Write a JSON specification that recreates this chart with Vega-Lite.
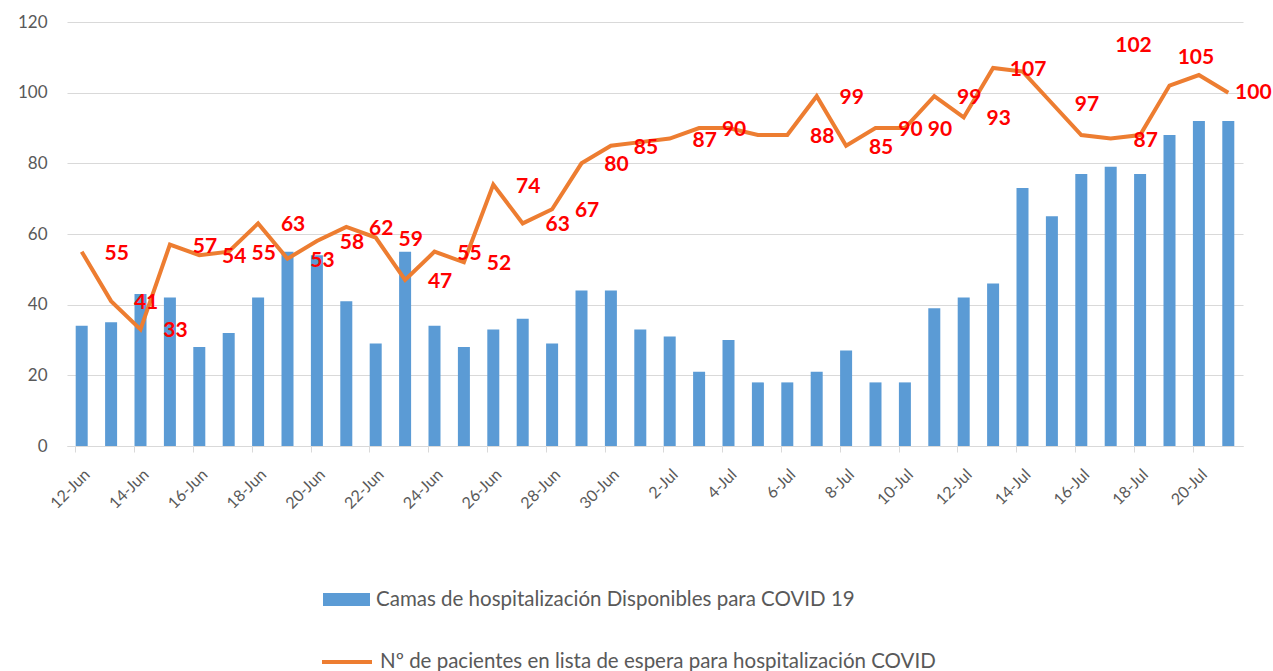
{
  "$schema": "https://vega.github.io/schema/vega-lite/v6.json",
  "width": 1176,
  "height": 424,
  "autosize": {"type": "none"},
  "padding": {"left": 67, "top": 22, "right": 30, "bottom": 225},
  "background": "white",
  "config": {
    "view": {"stroke": null},
    "font": "Lato",
    "axis": {"labelFont": "Lato", "labelColor": "#595959", "titleFont": "Lato"},
    "legend": {"labelFont": "Lato", "labelColor": "#595959", "labelLimit": 0}
  },
  "data": {
    "values": [
      {"fecha": "12-Jun", "camas": 34, "espera": 55},
      {"fecha": "13-Jun", "camas": 35, "espera": 41},
      {"fecha": "14-Jun", "camas": 43, "espera": 33},
      {"fecha": "15-Jun", "camas": 42, "espera": 57},
      {"fecha": "16-Jun", "camas": 28, "espera": 54},
      {"fecha": "17-Jun", "camas": 32, "espera": 55},
      {"fecha": "18-Jun", "camas": 42, "espera": 63},
      {"fecha": "19-Jun", "camas": 55, "espera": 53},
      {"fecha": "20-Jun", "camas": 54, "espera": 58},
      {"fecha": "21-Jun", "camas": 41, "espera": 62},
      {"fecha": "22-Jun", "camas": 29, "espera": 59},
      {"fecha": "23-Jun", "camas": 55, "espera": 47},
      {"fecha": "24-Jun", "camas": 34, "espera": 55},
      {"fecha": "25-Jun", "camas": 28, "espera": 52},
      {"fecha": "26-Jun", "camas": 33, "espera": 74},
      {"fecha": "27-Jun", "camas": 36, "espera": 63},
      {"fecha": "28-Jun", "camas": 29, "espera": 67},
      {"fecha": "29-Jun", "camas": 44, "espera": 80},
      {"fecha": "30-Jun", "camas": 44, "espera": 85},
      {"fecha": "1-Jul", "camas": 33, "espera": 86},
      {"fecha": "2-Jul", "camas": 31, "espera": 87},
      {"fecha": "3-Jul", "camas": 21, "espera": 90},
      {"fecha": "4-Jul", "camas": 30, "espera": 90},
      {"fecha": "5-Jul", "camas": 18, "espera": 88},
      {"fecha": "6-Jul", "camas": 18, "espera": 88},
      {"fecha": "7-Jul", "camas": 21, "espera": 99},
      {"fecha": "8-Jul", "camas": 27, "espera": 85},
      {"fecha": "9-Jul", "camas": 18, "espera": 90},
      {"fecha": "10-Jul", "camas": 18, "espera": 90},
      {"fecha": "11-Jul", "camas": 39, "espera": 99},
      {"fecha": "12-Jul", "camas": 42, "espera": 93},
      {"fecha": "13-Jul", "camas": 46, "espera": 107},
      {"fecha": "14-Jul", "camas": 73, "espera": 106},
      {"fecha": "15-Jul", "camas": 65, "espera": 97},
      {"fecha": "16-Jul", "camas": 77, "espera": 88},
      {"fecha": "17-Jul", "camas": 79, "espera": 87},
      {"fecha": "18-Jul", "camas": 77, "espera": 88},
      {"fecha": "19-Jul", "camas": 88, "espera": 102},
      {"fecha": "20-Jul", "camas": 92, "espera": 105},
      {"fecha": "21-Jul", "camas": 92, "espera": 100}
    ]
  },
  "encoding": {
    "x": {
      "field": "fecha",
      "type": "ordinal",
      "sort": null,
      "scale": {"paddingInner": 0.6, "paddingOuter": 0.3},
      "axis": {
        "title": null,
        "values": ["12-Jun", "14-Jun", "16-Jun", "18-Jun", "20-Jun", "22-Jun", "24-Jun", "26-Jun", "28-Jun", "30-Jun", "2-Jul", "4-Jul", "6-Jul", "8-Jul", "10-Jul", "12-Jul", "14-Jul", "16-Jul", "18-Jul", "20-Jul"],
        "labelAngle": -45,
        "labelFontSize": 16,
        "labelPadding": 14,
        "bandPosition": 0,
        "domainColor": "#d9d9d9",
        "domainWidth": 1,
        "tickColor": "#d9d9d9",
        "tickSize": 6,
        "grid": false
      }
    }
  },
  "layer": [
    {
      "mark": {"type": "bar", "width": 12},
      "encoding": {
        "y": {
          "field": "camas",
          "type": "quantitative",
          "scale": {"domain": [0, 120]},
          "axis": {
            "title": null,
            "values": [0, 20, 40, 60, 80, 100, 120],
            "labelFontSize": 17,
            "labelPadding": 20,
            "domain": false,
            "ticks": false,
            "gridColor": "#d9d9d9",
            "gridWidth": 1
          }
        },
        "color": {
          "datum": "Camas de hospitalización Disponibles para COVID 19",
          "scale": {"range": ["#5B9BD5"]},
          "legend": {
            "title": null,
            "orient": "none",
            "legendX": 256,
            "legendY": 554,
            "padding": 0,
            "labelFontSize": 20.5,
            "labelOffset": 6,
            "symbolType": "M-1,-0.28H1V0.28H-1Z",
            "symbolSize": 2209,
            "symbolStrokeWidth": 0
          }
        }
      }
    },
    {
      "mark": {"type": "line", "strokeWidth": 4},
      "encoding": {
        "y": {"field": "espera", "type": "quantitative"},
        "stroke": {
          "datum": "Nº de pacientes en lista de espera para hospitalización COVID",
          "scale": {"range": ["#ED7D31"]},
          "legend": {
            "title": null,
            "orient": "none",
            "legendX": 253,
            "legendY": 613,
            "padding": 0,
            "labelFontSize": 20.5,
            "labelOffset": 6,
            "symbolType": "stroke",
            "symbolSize": 2500,
            "symbolStrokeWidth": 4
          }
        }
      }
    },
    {
      "transform": [
        {"filter": {"not": {"field": "fecha", "oneOf": ["1-Jul", "4-Jul", "5-Jul", "14-Jul", "16-Jul", "18-Jul", "19-Jul", "20-Jul", "21-Jul"]}}}
      ],
      "mark": {"type": "text", "color": "#FF0000", "fontWeight": "bold", "fontSize": 21, "dx": 35, "dy": 2, "align": "center", "baseline": "middle"},
      "encoding": {
        "y": {"field": "espera", "type": "quantitative"},
        "text": {"field": "espera", "type": "quantitative"}
      }
    },
    {
      "transform": [{"filter": {"field": "fecha", "equal": "19-Jul"}}],
      "mark": {"type": "text", "color": "#FF0000", "fontWeight": "bold", "fontSize": 21, "dx": -36, "dy": -40, "align": "center", "baseline": "middle"},
      "encoding": {
        "y": {"field": "espera", "type": "quantitative"},
        "text": {"field": "espera", "type": "quantitative"}
      }
    },
    {
      "transform": [{"filter": {"field": "fecha", "equal": "20-Jul"}}],
      "mark": {"type": "text", "color": "#FF0000", "fontWeight": "bold", "fontSize": 21, "dx": -3, "dy": -17, "align": "center", "baseline": "middle"},
      "encoding": {
        "y": {"field": "espera", "type": "quantitative"},
        "text": {"field": "espera", "type": "quantitative"}
      }
    },
    {
      "transform": [{"filter": {"field": "fecha", "equal": "21-Jul"}}],
      "mark": {"type": "text", "color": "#FF0000", "fontWeight": "bold", "fontSize": 21, "dx": 25, "dy": 0, "align": "center", "baseline": "middle"},
      "encoding": {
        "y": {"field": "espera", "type": "quantitative"},
        "text": {"field": "espera", "type": "quantitative"}
      }
    }
  ]
}
